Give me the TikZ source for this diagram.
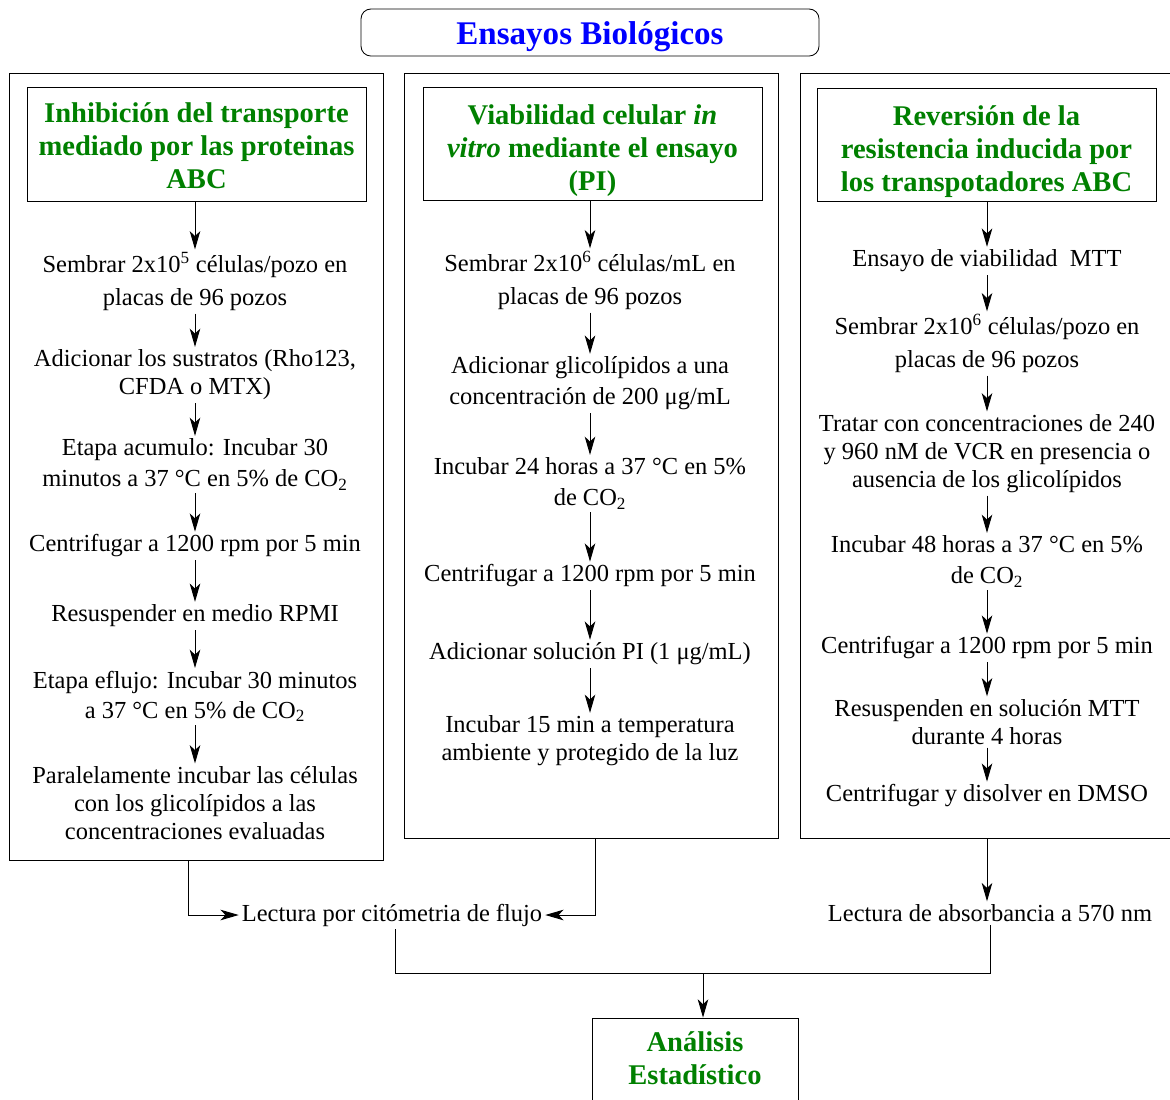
\documentclass[tikz,border=0pt]{standalone}
\usepackage{fontspec}
\setmainfont{Liberation Serif}
\usetikzlibrary{positioning,arrows.meta,fit,calc}
\definecolor{verdeT}{RGB}{0,128,0}
\tikzset{
titulo/.style={draw, rounded corners=7pt, line width=0.6pt, inner sep=0pt},
titulotexto/.style={font=\fontsize{23.5}{26}\selectfont\bfseries, text=blue},
marco/.style={draw, line width=0.6pt, inner sep=0pt},
cabtexto/.style={
  align=center, inner sep=2pt,
  font=\fontsize{20.3}{23.5}\selectfont\bfseries, text=verdeT
},
paso/.style={align=center, inner sep=2pt, font=\fontsize{17.4}{19.8}\selectfont},
flecha/.style={line width=0.7pt, -{Stealth[length=13pt,width=7.5pt,inset=3.5pt]}},
linea/.style={line width=0.7pt}
}
\begin{document}
\begin{tikzpicture}[x=0.025cm, y=-0.025cm]
\useasboundingbox (0,0) rectangle (1170,1099);
% titulo
\node[titulo, fit={(361,9) (819,56)}] (tit) {};
\node[titulotexto] (ttit) at (590,36.5) {Ensayos Biológicos};
% marcos de las columnas
\node[marco, fit={(9,73) (383,860)}] (marco1) {};
\node[marco, fit={(404,73) (778,838)}] (marco2) {};
\node[marco, fit={(800,73) (1174,838)}] (marco3) {};
% cabeceras
\node[marco, fit={(27,87) (366,201)}] (cab1) {};
\node[cabtexto] (tcab1) at (196.5,146) {Inhibición del transporte\\mediado por las proteinas\\ABC};
\node[marco, fit={(423,87) (762,200)}] (cab2) {};
\node[cabtexto] (tcab2) at (592.5,150.5) {Viabilidad celular \textit{in}\\\textit{vitro} mediante el ensayo\\(PI)};
\node[marco, fit={(817,88) (1156,201)}] (cab3) {};
\node[cabtexto] (tcab3) at (986.5,151.5) {Reversión de la\\resistencia inducida por\\los transpotadores ABC};
% columna 1
\node[paso] (c1a) at (195,281.5) {Sembrar 2x10\textsuperscript{5} células/pozo en\\[3.5pt]placas de 96 pozos};
\node[paso] (c1b) at (195,375) {Adicionar los sustratos (Rho123,\\CFDA o MTX)};
\node[paso] (c1c) at (195,464.5) {Etapa acumulo: Incubar 30\\[1.8pt]minutos a 37 °C en 5\% de CO\textsubscript{2}};
\node[paso] (c1d) at (195,546) {Centrifugar a 1200 rpm por 5 min};
\node[paso] (c1e) at (195,616) {Resuspender en medio RPMI};
\node[paso] (c1f) at (195,696.5) {Etapa eflujo: Incubar 30 minutos\\[1.5pt]a 37 °C en 5\% de CO\textsubscript{2}};
\node[paso] (c1g) at (195,803) {Paralelamente incubar las células\\con los glicolípidos a las\\concentraciones evaluadas};
% columna 2
\node[paso] (c2a) at (590,280.5) {Sembrar 2x10\textsuperscript{6} células/mL en\\[3.5pt]placas de 96 pozos};
\node[paso] (c2b) at (590,383.5) {Adicionar glicolípidos a una\\[2.2pt]concentración de 200 μg/mL};
\node[paso] (c2c) at (590,483.5) {Incubar 24 horas a 37 °C en 5\%\\[1.8pt]de CO\textsubscript{2}};
\node[paso] (c2d) at (590,576) {Centrifugar a 1200 rpm por 5 min};
\node[paso] (c2e) at (590,654) {Adicionar solución PI (1 μg/mL)};
\node[paso] (c2f) at (590,741) {Incubar 15 min a temperatura\\ambiente y protegido de la luz};
% columna 3
\node[paso] (c3a) at (987,261) {Ensayo de viabilidad~ MTT};
\node[paso] (c3b) at (987,343.5) {Sembrar 2x10\textsuperscript{6} células/pozo en\\[3.5pt]placas de 96 pozos};
\node[paso] (c3c) at (987,453.5) {Tratar con concentraciones de 240\\y 960 nM de VCR en presencia o\\ausencia de los glicolípidos};
\node[paso] (c3d) at (987,561.5) {Incubar 48 horas a 37 °C en 5\%\\[1.8pt]de CO\textsubscript{2}};
\node[paso] (c3e) at (987,648) {Centrifugar a 1200 rpm por 5 min};
\node[paso] (c3f) at (987,722) {Resuspenden en solución MTT\\durante 4 horas};
\node[paso] (c3g) at (987,796) {Centrifugar y disolver en DMSO};
% lecturas y analisis
\node[paso] (flujo) at (392,915) {Lectura por citómetria de flujo};
\node[paso] (absor) at (990,913) {Lectura de absorbancia a 570 nm};
\coordinate (union) at (703,973);
\node[marco, fit={(592,1018) (798,1110)}] (anal) {};
\node[cabtexto] (tanal) at (695,1058) {Análisis\\Estadístico};
% flechas columna 1
\draw[flecha] (cab1.south -| c1a.north) -- (c1a.north);
\draw[flecha] (c1a) -- (c1b);
\draw[flecha] (c1b) -- (c1c);
\draw[flecha] (c1c) -- (c1d);
\draw[flecha] (c1d) -- (c1e);
\draw[flecha] (c1e) -- (c1f);
\draw[flecha] (c1f) -- (c1g);
% flechas columna 2
\draw[flecha] (cab2.south -| c2a.north) -- (c2a.north);
\draw[flecha] (c2a) -- (c2b);
\draw[flecha] (c2b) -- (c2c);
\draw[flecha] (c2c) -- (c2d);
\draw[flecha] (c2d) -- (c2e);
\draw[flecha] (c2e) -- (c2f);
% flechas columna 3
\draw[flecha] (cab3.south -| c3a.north) -- (c3a.north);
\draw[flecha] (c3a) -- (c3b);
\draw[flecha] (c3b) -- (c3c);
\draw[flecha] (c3c) -- (c3d);
\draw[flecha] (c3d) -- (c3e);
\draw[flecha] (c3e) -- (c3f);
\draw[flecha] (c3f) -- (c3g);
% conexiones inferiores
\draw[flecha] ([xshift=-0.2cm]marco1.south) |- (flujo.west);
\draw[flecha] ([xshift=0.1cm]marco2.south) |- (flujo.east);
\draw[flecha] (marco3.south) -- (marco3.south |- absor.north);
\draw[linea] ([xshift=0.075cm]flujo.south) |- (union) -| (absor.south);
\draw[flecha] (union) -- (union |- anal.north);
\end{tikzpicture}
\end{document}
